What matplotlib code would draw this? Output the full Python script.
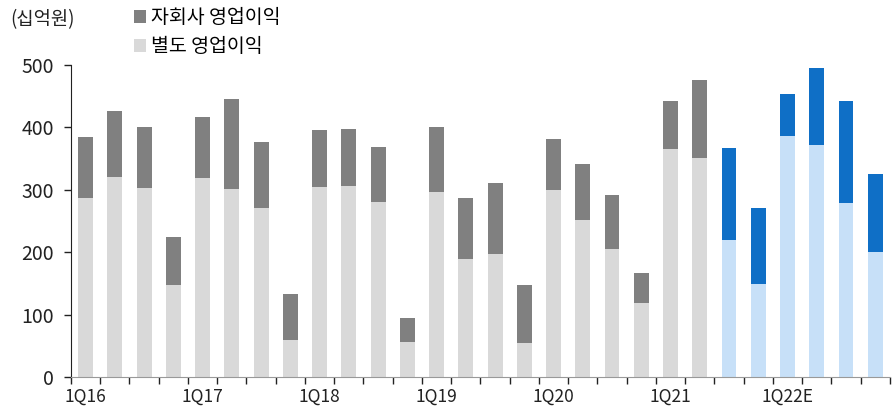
import numpy as np
import matplotlib.pyplot as plt

plt.rcParams['font.family'] = ['Noto Sans CJK KR', 'DejaVu Sans']

quarters = ['1Q16', '2Q16', '3Q16', '4Q16', '1Q17', '2Q17', '3Q17', '4Q17',
            '1Q18', '2Q18', '3Q18', '4Q18', '1Q19', '2Q19', '3Q19', '4Q19',
            '1Q20', '2Q20', '3Q20', '4Q20', '1Q21', '2Q21', '3Q21E', '4Q21E',
            '1Q22E', '2Q22E', '3Q22E', '4Q22E']
tick_labels = ['1Q16', '1Q17', '1Q18', '1Q19', '1Q20', '1Q21', '1Q22E']

# 별도 영업이익 (separate operating profit)
separate = [287, 321, 303, 147, 319, 301, 271, 59, 304, 306, 280, 57, 296,
            190, 197, 54, 299, 251, 206, 118, 365, 351, 219, 149, 386, 372,
            279, 200]
# 연결 영업이익 total (separate + subsidiaries)
total = [384, 426, 401, 225, 416, 446, 376, 133, 396, 398, 368, 94, 401,
         287, 311, 147, 382, 341, 291, 166, 443, 476, 367, 271, 454, 495,
         442, 325]
n_actual = 22  # first 22 quarters are actuals, rest are estimates

separate = np.array(separate)
subsidiary = np.array(total) - separate
x = np.arange(len(quarters))

fig = plt.figure(figsize=(8.93, 4.09), dpi=100)
ax = fig.add_axes([0.0795, 0.078, 0.917, 0.763])

w = 0.51
a = slice(0, n_actual)
e = slice(n_actual, None)
b1 = ax.bar(x[a], separate[a], w, color='#d9d9d9', label='별도 영업이익')
b2 = ax.bar(x[a], subsidiary[a], w, bottom=separate[a], color='#808080',
            label='자회사 영업이익')
ax.bar(x[e], separate[e], w, color='#c7e0f8')
ax.bar(x[e], subsidiary[e], w, bottom=separate[e], color='#0f6fc6')

ax.set_xlim(-0.5, len(quarters) - 0.5)
ax.set_ylim(0, 500)
ax.set_yticks(range(0, 501, 100))

ax.set_xticks(x[::4])
ax.set_xticklabels(tick_labels)
ax.set_xticks(np.arange(-0.5, len(quarters)), minor=True)
ax.tick_params(axis='x', which='major', length=0, pad=8, labelsize=12.5,
               colors='#222222')
ax.tick_params(axis='x', which='minor', length=5, width=1, color='#222222')
ax.tick_params(axis='y', length=5, width=1, labelsize=14, colors='#222222',
               pad=7)

for s in ['top', 'right']:
    ax.spines[s].set_visible(False)
ax.spines['left'].set_color('#222222')
ax.spines['bottom'].set_color('#999999')

fig.text(0.011, 0.952, '(십억원)', fontsize=13.5, color='#222222', va='center')
fig.legend(handles=[b2, b1], loc='upper left', bbox_to_anchor=(0.135, 1.015),
           frameon=False, fontsize=14, handlelength=0.6, handleheight=0.6,
           handletextpad=0.25, labelspacing=0.4, borderpad=0.2)

fig.savefig('out.png', dpi=100)
